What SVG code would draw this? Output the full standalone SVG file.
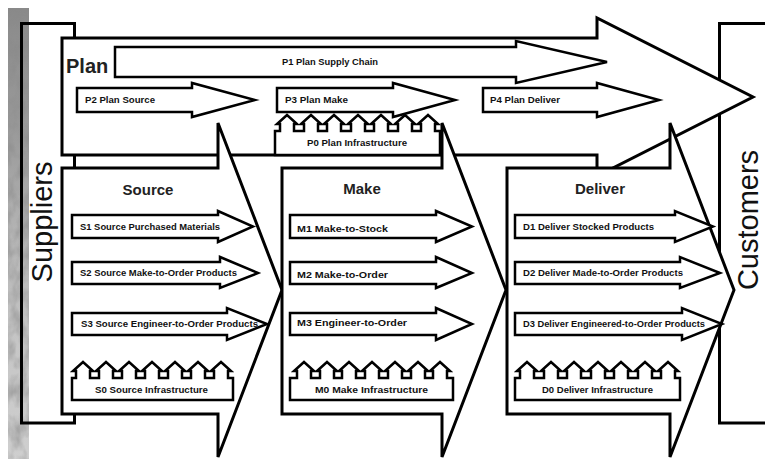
<svg xmlns="http://www.w3.org/2000/svg" width="765" height="459" viewBox="0 0 765 459">
  <style>
    .big { fill: #fff; stroke: #000; stroke-width: 3; stroke-linejoin: miter; }
    .box { fill: none; stroke: #000; stroke-width: 3; }
    .arr { fill: #fff; stroke: #000; stroke-width: 2.5; stroke-linejoin: miter; }
    .lbl { font-family: "Liberation Sans", Arial, sans-serif; font-weight: bold; font-size: 9px; fill: #111; }
    .stage { font-family: "Liberation Sans", Arial, sans-serif; font-weight: bold; font-size: 15px; fill: #222; text-anchor: middle; }
    .side { font-family: "Liberation Sans", Arial, sans-serif; font-size: 29px; fill: #111; text-anchor: middle; }
  </style>
  <defs>
    <linearGradient id="stripShade" x1="0" y1="0" x2="0" y2="1">
      <stop offset="0" stop-color="#8a8a8a"/>
      <stop offset="0.3" stop-color="#9c9c9c"/>
      <stop offset="0.5" stop-color="#b4b4b4"/>
      <stop offset="0.75" stop-color="#c6c6c6"/>
      <stop offset="1" stop-color="#cfcfcf"/>
    </linearGradient>
    <filter id="grain" x="0" y="0" width="1" height="1">
      <feTurbulence type="fractalNoise" baseFrequency="0.09 0.05" numOctaves="3" seed="5"/>
      <feColorMatrix type="matrix" values="0 0 0 0 0.25  0 0 0 0 0.25  0 0 0 0 0.25  1.8 0 0 0 -0.65"/>
    </filter>
  </defs>

  <rect width="765" height="459" fill="#fff"/>

  <!-- textured strip at the left edge -->
  <g id="edge-strip">
    <rect x="8" y="8" width="21" height="451" fill="url(#stripShade)"/>
    <rect x="8" y="8" width="21" height="451" fill="#000" filter="url(#grain)" opacity="0.7"/>
  </g>

  <g id="suppliers">
    <rect class="box" x="21.5" y="23.5" width="53" height="399.5"/>
    <text class="side" transform="translate(52,222) rotate(-90)">Suppliers</text>
  </g>

  <g id="customers">
    <rect class="box" x="719.5" y="23.5" width="60" height="399.5"/>
    <text class="side" transform="translate(758,220) rotate(-90)">Customers</text>
  </g>

  <!-- Plan: overall planning arrow spanning the chain -->
  <g id="plan">
    <polygon class="big" points="62,38 597,38 597,18 753,97 597,176 597,155 62,155"/>
    <text x="66" y="73" font-family="Liberation Sans, Arial, sans-serif" font-weight="bold" font-size="20" fill="#222">Plan</text>
  </g>
  <g id="p1">
    <polygon class="arr" points="115,47 516,47 516,41 607,62 516,83 516,77 115,77"/>
    <text class="lbl" x="282" y="65" textLength="96" lengthAdjust="spacingAndGlyphs">P1 Plan Supply Chain</text>
  </g>
  <g id="p2">
    <polygon class="arr" points="77,88 192,88 192,83 255,100 192,117 192,112 77,112"/>
    <text class="lbl" x="85" y="103" textLength="70" lengthAdjust="spacingAndGlyphs">P2 Plan Source</text>
  </g>
  <g id="p3">
    <polygon class="arr" points="277,88 393,88 393,83 455,100 393,117 393,112 277,112"/>
    <text class="lbl" x="285" y="103" textLength="63" lengthAdjust="spacingAndGlyphs">P3 Plan Make</text>
  </g>
  <g id="p4">
    <polygon class="arr" points="483,88 597,88 597,83 659,100 597,117 597,112 483,112"/>
    <text class="lbl" x="490" y="103" textLength="70" lengthAdjust="spacingAndGlyphs">P4 Plan Deliver</text>
  </g>
  <g id="p0">
    <path class="arr" d="M275,155 L275,131
      L280,131 L280,124 L277,124 L287,115 L297,124 L294,124 L294,131
      L304,131 L304,124 L301,124 L311,115 L321,124 L318,124 L318,131
      L327,131 L327,124 L324,124 L334,115 L344,124 L341,124 L341,131
      L351,131 L351,124 L348,124 L358,115 L368,124 L365,124 L365,131
      L374,131 L374,124 L371,124 L381,115 L391,124 L388,124 L388,131
      L398,131 L398,124 L395,124 L405,115 L415,124 L412,124 L412,131
      L421,131 L421,124 L418,124 L428,115 L438,124 L435,124 L435,131
      L440,131 L440,155 Z"/>
    <text class="lbl" x="307" y="146" textLength="100" lengthAdjust="spacingAndGlyphs">P0 Plan Infrastructure</text>
  </g>

  <!-- Source stage -->
  <g id="source">
    <polygon class="big" points="62,168 218,168 218,123 282,290 218,457 218,414 62,414"/>
    <text class="stage" x="148" y="195">Source</text>
  </g>
  <g id="s1">
    <polygon class="arr" points="72,215 218,215 218,211 253,226.5 218,242 218,238 72,238"/>
    <text class="lbl" x="80" y="230" textLength="140" lengthAdjust="spacingAndGlyphs">S1 Source Purchased Materials</text>
  </g>
  <g id="s2">
    <polygon class="arr" points="72,262 220,262 220,257 258,273 220,288 220,284 72,284"/>
    <text class="lbl" x="80" y="276" textLength="157" lengthAdjust="spacingAndGlyphs">S2 Source Make-to-Order Products</text>
  </g>
  <g id="s3">
    <polygon class="arr" points="72,313 227,313 227,308 267,324 227,340 227,335 72,335"/>
    <text class="lbl" x="81" y="327" textLength="177" lengthAdjust="spacingAndGlyphs">S3 Source Engineer-to-Order Products</text>
  </g>
  <g id="s0">
    <path class="arr" d="M72,400 L72,378
      L76,378 L76,371 L73,371 L83,362 L93,371 L90,371 L90,378
      L99,378 L99,371 L96,371 L106,362 L116,371 L113,371 L113,378
      L122,378 L122,371 L119,371 L129,362 L139,371 L136,371 L136,378
      L145,378 L145,371 L142,371 L152,362 L162,371 L159,371 L159,378
      L168,378 L168,371 L165,371 L175,362 L185,371 L182,371 L182,378
      L191,378 L191,371 L188,371 L198,362 L208,371 L205,371 L205,378
      L214,378 L214,371 L211,371 L221,362 L231,371 L228,371 L228,378
      L233,378 L233,400 Z"/>
    <text class="lbl" x="95" y="393" textLength="113" lengthAdjust="spacingAndGlyphs">S0 Source Infrastructure</text>
  </g>

  <!-- Make stage -->
  <g id="make">
    <polygon class="big" points="282,168 442,168 442,123 506,290 442,457 442,414 282,414"/>
    <text class="stage" x="362" y="194">Make</text>
  </g>
  <g id="m1">
    <polygon class="arr" points="290,215 436,215 436,211 472,226.5 436,242 436,238 290,238"/>
    <text class="lbl" x="297" y="232" textLength="91" lengthAdjust="spacingAndGlyphs">M1 Make-to-Stock</text>
  </g>
  <g id="m2">
    <polygon class="arr" points="290,262 436,262 436,257 472,273 436,288 436,284 290,284"/>
    <text class="lbl" x="297" y="278" textLength="91" lengthAdjust="spacingAndGlyphs">M2 Make-to-Order</text>
  </g>
  <g id="m3">
    <polygon class="arr" points="290,313 436,313 436,308 472,324 436,340 436,335 290,335"/>
    <text class="lbl" x="297" y="326" textLength="110" lengthAdjust="spacingAndGlyphs">M3 Engineer-to-Order</text>
  </g>
  <g id="m0">
    <path class="arr" d="M290,400 L290,378
      L297,378 L297,371 L294,371 L304,362 L314,371 L311,371 L311,378
      L320,378 L320,371 L317,371 L327,362 L337,371 L334,371 L334,378
      L342,378 L342,371 L339,371 L349,362 L359,371 L356,371 L356,378
      L365,378 L365,371 L362,371 L372,362 L382,371 L379,371 L379,378
      L388,378 L388,371 L385,371 L395,362 L405,371 L402,371 L402,378
      L411,378 L411,371 L408,371 L418,362 L428,371 L425,371 L425,378
      L433,378 L433,371 L430,371 L440,362 L450,371 L447,371 L447,378
      L453,378 L453,400 Z"/>
    <text class="lbl" x="315" y="393" textLength="113" lengthAdjust="spacingAndGlyphs">M0 Make Infrastructure</text>
  </g>

  <!-- Deliver stage -->
  <g id="deliver">
    <polygon class="big" points="507,168 670,168 670,123 734,290 670,457 670,414 507,414"/>
    <text class="stage" x="600" y="194">Deliver</text>
  </g>
  <g id="d1">
    <polygon class="arr" points="515,215 675,215 675,211 713,226.5 675,242 675,238 515,238"/>
    <text class="lbl" x="523" y="230" textLength="131" lengthAdjust="spacingAndGlyphs">D1 Deliver Stocked Products</text>
  </g>
  <g id="d2">
    <polygon class="arr" points="515,262 680,262 680,257 720,273 680,288 680,284 515,284"/>
    <text class="lbl" x="523" y="276" textLength="160" lengthAdjust="spacingAndGlyphs">D2 Deliver Made-to-Order Products</text>
  </g>
  <g id="d3">
    <polygon class="arr" points="515,313 682,313 682,308 722,324 682,340 682,335 515,335"/>
    <text class="lbl" x="523" y="327" textLength="182" lengthAdjust="spacingAndGlyphs">D3 Deliver Engineered-to-Order Products</text>
  </g>
  <g id="d0">
    <path class="arr" d="M515,400 L515,378
      L520,378 L520,371 L517,371 L527,362 L537,371 L534,371 L534,378
      L544,378 L544,371 L541,371 L551,362 L561,371 L558,371 L558,378
      L567,378 L567,371 L564,371 L574,362 L584,371 L581,371 L581,378
      L591,378 L591,371 L588,371 L598,362 L608,371 L605,371 L605,378
      L614,378 L614,371 L611,371 L621,362 L631,371 L628,371 L628,378
      L638,378 L638,371 L635,371 L645,362 L655,371 L652,371 L652,378
      L661,378 L661,371 L658,371 L668,362 L678,371 L675,371 L675,378
      L680,378 L680,400 Z"/>
    <text class="lbl" x="542" y="393" textLength="111" lengthAdjust="spacingAndGlyphs">D0 Deliver Infrastructure</text>
  </g>

  <g id="connectors"></g>
</svg>
